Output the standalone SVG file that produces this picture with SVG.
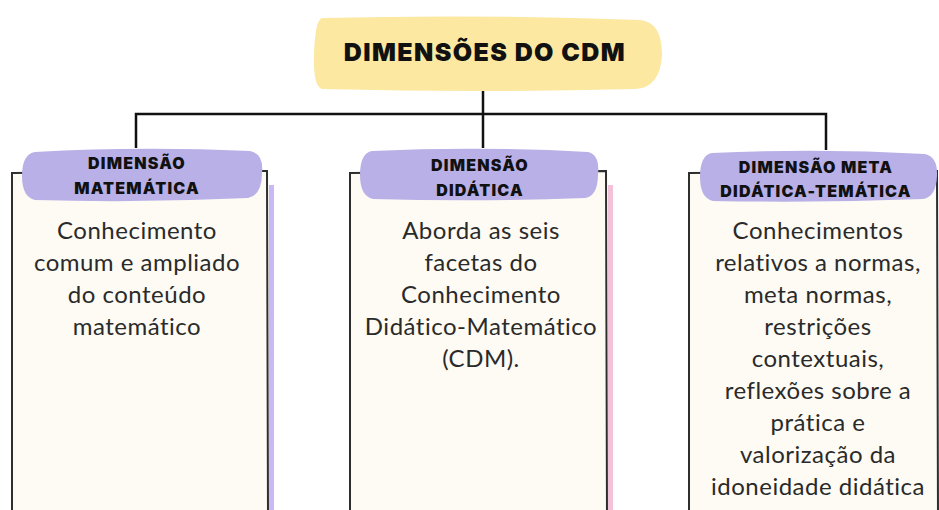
<svg xmlns="http://www.w3.org/2000/svg" width="939" height="510" viewBox="0 0 939 510">
<style>
.box{fill:#fdfbf4;stroke:#2e2e2e;stroke-width:2}
.pill{fill:#b8b0e6}
.hd{font-family:Inter,Roboto,"DejaVu Sans",sans-serif;font-weight:900;font-size:16px;fill:#111;text-anchor:middle;letter-spacing:1.2px}
.bd{font-family:Lato,"Noto Sans",sans-serif;font-size:24px;fill:#2a2a2a;text-anchor:middle;letter-spacing:0.5px}
.conn{fill:none;stroke:#111;stroke-width:2.5}
</style>
<rect width="939" height="510" fill="#ffffff"/>
<g id="connectors">
<path class="conn" d="M483 90 V114 M136 148 V114 H826 V150 M483 114 V148"/>
</g>
<g id="title">
<path d="M322 18 Q480 14 640 20 Q662 22 662 55 Q660 88 635 89 Q480 93 322 89 Q313 86 314 55 Q315 20 322 18 Z" fill="#fce8a0"/>
<text x="485" y="61" font-family="Inter,Roboto,'DejaVu Sans',sans-serif" font-weight="900" font-size="25" fill="#111" text-anchor="middle" letter-spacing="1.4">DIMENSÕES DO CDM</text>
</g>
<g id="dim-matematica">
<rect x="269" y="185" width="5" height="330" fill="#c8b8f4"/>
<path class="box" d="M12 173 L267 171 L268 515 L12 515 Z"/>
<path class="pill" d="M35 152 Q140 146 250 151 Q264 154 262 173 Q262 195 248 198 Q140 203 35 200 Q22 197 22 176 Q22 154 35 152 Z"/>
<text class="hd" x="137" y="169">DIMENSÃO</text>
<text class="hd" x="137" y="194">MATEMÁTICA</text>
<text class="bd" x="137" y="239">Conhecimento</text>
<text class="bd" x="137" y="271">comum e ampliado</text>
<text class="bd" x="137" y="303">do conteúdo</text>
<text class="bd" x="137" y="335">matemático</text>
</g>
<g id="dim-didatica">
<rect x="608" y="185" width="5" height="330" fill="#f2c2d8"/>
<path class="box" d="M350 173 L606 171 L607 515 L350 515 Z"/>
<path class="pill" d="M372 151 Q480 146 588 152 Q600 155 598 174 Q598 196 585 198 Q480 202 373 199 Q360 196 360 175 Q360 153 372 151 Z"/>
<text class="hd" x="480" y="171">DIMENSÃO</text>
<text class="hd" x="480" y="196">DIDÁTICA</text>
<text class="bd" x="481" y="239">Aborda as seis</text>
<text class="bd" x="481" y="271">facetas do</text>
<text class="bd" x="481" y="303">Conhecimento</text>
<text class="bd" x="481" y="335">Didático-Matemático</text>
<text class="bd" x="481" y="367">(CDM).</text>
</g>
<g id="dim-meta">
<path class="box" d="M689 173 L937 171 L938 515 L689 515 Z"/>
<path class="pill" d="M712 153 Q820 148 925 154 Q938 157 937 176 Q936 197 923 199 Q820 203 713 201 Q700 198 700 177 Q700 155 712 153 Z"/>
<text class="hd" x="816" y="173">DIMENSÃO META</text>
<text class="hd" x="816" y="197">DIDÁTICA-TEMÁTICA</text>
<text class="bd" x="818" y="239">Conhecimentos</text>
<text class="bd" x="818" y="271">relativos a normas,</text>
<text class="bd" x="818" y="303">meta normas,</text>
<text class="bd" x="818" y="335">restrições</text>
<text class="bd" x="818" y="367">contextuais,</text>
<text class="bd" x="818" y="399">reflexões sobre a</text>
<text class="bd" x="818" y="431">prática e</text>
<text class="bd" x="818" y="463">valorização da</text>
<text class="bd" x="818" y="495">idoneidade didática</text>
</g>
</svg>
